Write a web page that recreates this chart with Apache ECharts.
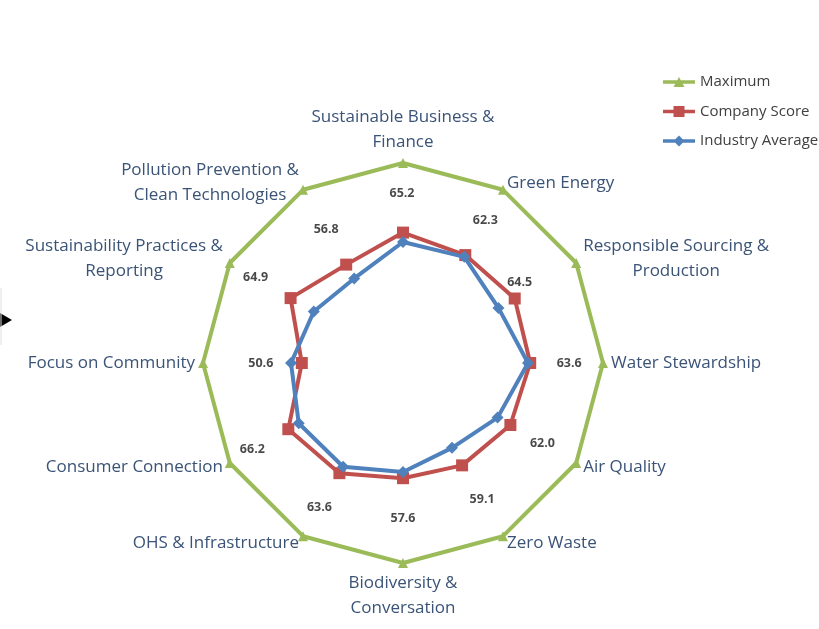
<!DOCTYPE html>
<html>
<head>
<meta charset="utf-8">
<script src="https://cdn.jsdelivr.net/npm/echarts@6/dist/echarts.min.js"></script>
<style>
  html, body { margin: 0; padding: 0; background: #ffffff; }
  #chart { width: 819px; height: 629px; }
</style>
</head>
<body>
<div id="chart"></div>
<script>
// ---- data (clockwise from top) ----
var categories = [
  'Sustainable Business &\nFinance',
  'Green Energy',
  'Responsible Sourcing &\nProduction',
  'Water Stewardship',
  'Air Quality',
  'Zero Waste',
  'Biodiversity &\nConversation',
  'OHS & Infrastructure',
  'Consumer Connection',
  'Focus on Community',
  'Sustainability Practices &\nReporting',
  'Pollution Prevention &\nClean Technologies'
];
var maximum = [100, 100, 100, 100, 100, 100, 100, 100, 100, 100, 100, 100];
var companyScore = [65.2, 62.3, 64.5, 63.6, 62.0, 59.1, 57.6, 63.6, 66.2, 50.6, 64.9, 56.8];
var industryAverage = [60.5, 61.3, 55.1, 62.5, 54.6, 49.0, 54.5, 59.9, 60.2, 56.0, 51.5, 48.8];
var seriesNames = ['Maximum', 'Company Score', 'Industry Average'];

// ---- styling ----
var CENTER = [403, 363];
var RADIUS = 200;
// pixel offsets of the value text boxes from their Company Score point
var labelOffsets = [[-1, -39], [20, -35], [5, -16], [39, 0], [32, 18], [20, 34],
                    [0, 40], [-20, 34], [-36, 20], [-41, 0], [-35, -21], [-20, -35]];

// ECharts radar runs counter-clockwise; reorder so the picture is clockwise
var order = categories.map(function (_, i) { return i === 0 ? 0 : categories.length - i; });
function reorder(arr) { return order.map(function (k) { return arr[k]; }); }

var indicators = reorder(categories).map(function (name) { return { name: name, max: 100, min: 0 }; });

function richName(name) {
  return name.split('\n').map(function (s) { return '{a|' + s + '}'; }).join('\n');
}

var chart = echarts.init(document.getElementById('chart'), null, { renderer: 'canvas' });

var legendIcons = {
  'Maximum': 'path://M0,4.3L32,4.3L32,7.7L0,7.7Z M10.5,11L16,1L21.5,11Z',
  'Company Score': 'path://M0,4.2L32,4.2L32,7.8L0,7.8Z M10.5,0.5L21.5,0.5L21.5,11.5L10.5,11.5Z',
  'Industry Average': 'path://M0,4.3L32,4.3L32,7.7L0,7.7Z M16,0.5L21.5,6L16,11.5L10.5,6Z'
};

var NAME_FONT = 'Open Sans';
var NAME_SIZE = 17;
var NAME_COLOR = '#3A5377';

var option = {
  backgroundColor: '#ffffff',
  animation: false,
  color: ['#9BBB59', '#C0504D', '#4F81BD'],
  legend: {
    orient: 'vertical',
    left: 658,
    top: 68,
    itemWidth: 32,
    itemHeight: 12,
    itemGap: 11.5,
    textStyle: { fontFamily: 'Open Sans', fontSize: 15, lineHeight: 18, color: '#404040' },
    data: seriesNames.map(function (n) { return { name: n, icon: legendIcons[n] }; })
  },
  radar: {
    center: CENTER,
    radius: RADIUS,
    startAngle: 90,
    shape: 'polygon',
    indicator: indicators,
    nameGap: 8,
    splitNumber: 1,
    axisName: {
      fontFamily: NAME_FONT,
      fontSize: NAME_SIZE,
      color: NAME_COLOR,
      lineHeight: 25,
      formatter: function (v) { return richName(v); },
      rich: { a: { align: 'center', fontFamily: NAME_FONT, fontSize: NAME_SIZE, color: NAME_COLOR, lineHeight: 25 } }
    },
    axisLine: { show: false },
    splitLine: { show: false },
    splitArea: { show: false },
    axisTick: { show: false },
    axisLabel: { show: false }
  },
  polar: { center: CENTER, radius: RADIUS },
  angleAxis: {
    type: 'category',
    data: categories,
    boundaryGap: false,
    startAngle: 90,
    clockwise: true,
    show: false
  },
  radiusAxis: { type: 'value', min: 0, max: 100, show: false },
  series: [
    {
      type: 'radar',
      name: seriesNames[0],
      symbol: 'triangle',
      symbolSize: 10,
      lineStyle: { width: 4, color: '#9BBB59' },
      itemStyle: { color: '#9BBB59' },
      z: 2,
      data: [{ value: reorder(maximum), name: seriesNames[0] }]
    },
    {
      type: 'radar',
      name: seriesNames[1],
      symbol: 'rect',
      symbolSize: 12,
      lineStyle: { width: 4, color: '#C0504D' },
      itemStyle: { color: '#C0504D' },
      z: 3,
      data: [{ value: reorder(companyScore), name: seriesNames[1] }]
    },
    {
      type: 'radar',
      name: seriesNames[2],
      symbol: 'diamond',
      symbolSize: 12,
      lineStyle: { width: 4, color: '#4F81BD' },
      itemStyle: { color: '#4F81BD' },
      z: 4,
      data: [{ value: reorder(industryAverage), name: seriesNames[2] }]
    },
    {
      type: 'scatter',
      name: 'scoreLabels',
      coordinateSystem: 'polar',
      symbolSize: 0,
      silent: true,
      z: 5,
      data: companyScore.map(function (v, i) {
        return { value: [v, i], label: { offset: labelOffsets[i] } };
      }),
      label: {
        show: true,
        position: 'inside',
        fontFamily: 'Open Sans',
        fontWeight: 'bold',
        fontSize: 12.5,
        color: '#1a1a1a',
        formatter: function (p) { return p.value[0].toFixed(1); }
      }
    }
  ],
  graphic: [
    {
      type: 'polygon',
      shape: { points: [[0, 313], [12, 320], [0, 327]] },
      style: { fill: '#000000' }
    },
    {
      type: 'line',
      shape: { x1: 1, y1: 288, x2: 1, y2: 345 },
      style: { stroke: '#e0e0e0', lineWidth: 1 }
    }
  ]
};

chart.setOption(option);
</script>
</body>
</html>
